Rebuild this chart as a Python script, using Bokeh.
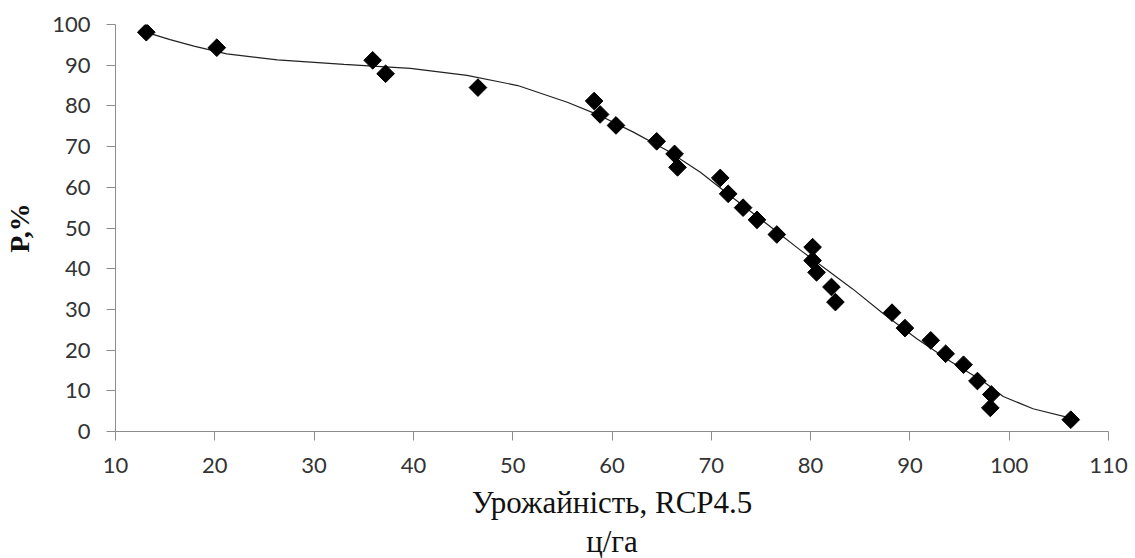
import numpy as np
from bokeh.plotting import figure
from bokeh.models import Range1d, FixedTicker, Title
from bokeh.embed import file_html
from bokeh.resources import INLINE

# Observed points: yield (c/ha) vs probability P (%)
yield_vals = [13.1, 20.2, 35.9, 37.2, 46.5, 58.2, 58.8, 60.4, 64.5, 66.3,
              66.6, 70.9, 71.7, 73.2, 74.6, 76.6, 80.2, 80.2, 80.6, 82.1,
              82.5, 88.2, 89.5, 92.1, 93.6, 95.4, 96.8, 98.2, 98.1, 106.2]
p_vals = [98.1, 94.3, 91.2, 87.9, 84.5, 81.2, 77.9, 75.2, 71.3, 68.2,
          64.9, 62.3, 58.4, 55.0, 52.0, 48.4, 45.3, 42.0, 39.1, 35.5,
          31.8, 29.2, 25.4, 22.4, 19.1, 16.4, 12.4, 9.1, 5.8, 2.9]

# Trend line
trend_x = [13.2, 15.5, 17.9, 21.2, 26.3, 33.0, 39.7, 45.4, 50.5, 55.5,
           58.8, 62.2, 65.6, 68.9, 72.3, 75.6, 79.0, 84.2, 87.3, 90.7,
           94.1, 97.4, 99.4, 102.4, 106.2]
trend_y = [98.0, 96.3, 94.7, 92.8, 91.3, 90.2, 89.2, 87.5, 85.0, 80.9,
           77.6, 73.5, 69.0, 63.7, 57.2, 51.0, 44.5, 35.1, 29.0, 22.8,
           17.2, 12.3, 8.6, 5.6, 3.3]

x_ticks = [10, 20, 30, 40, 50, 60, 70, 80, 90, 100, 110]
y_ticks = [0, 10, 20, 30, 40, 50, 60, 70, 80, 90, 100]
x_title_lines = ["Урожайність, RCP4.5", "ц/га"]
y_title = "P,%"

p = figure(width=1135, height=558, output_backend="svg", toolbar_location=None,
           x_range=Range1d(10, 110), y_range=Range1d(0, 100),
           min_border_left=115, min_border_right=27, min_border_top=24,
           min_border_bottom=127)
p.outline_line_color = None
p.xgrid.visible = False
p.ygrid.visible = False
p.background_fill_color = "white"
p.border_fill_color = "white"

p.line(trend_x, trend_y, line_color="#222222", line_width=1.2)
p.scatter(yield_vals, p_vals, marker="square", angle=np.pi / 4, size=12.5,
          fill_color="black", line_color="black")

axis_grey = "#8c8c8c"
for ax in (p.xaxis[0], p.yaxis[0]):
    ax.axis_line_color = axis_grey
    ax.major_tick_line_color = axis_grey
    ax.minor_tick_line_color = None
    ax.major_tick_in = 0
    ax.major_tick_out = 9
    ax.major_label_text_font = "Lato"
    ax.major_label_text_font_size = "22px"
    ax.major_label_text_color = "#333333"

p.xaxis[0].ticker = FixedTicker(ticks=x_ticks)
p.yaxis[0].ticker = FixedTicker(ticks=y_ticks)
p.xaxis[0].major_label_standoff = 17
p.yaxis[0].major_label_standoff = 16

for i, txt in enumerate(x_title_lines):
    p.add_layout(Title(text=txt, align="center", offset=5,
                       standoff=14 if i == 0 else -10,
                       text_font="Liberation Serif", text_font_size="31px",
                       text_font_style="normal", text_color="#111111"),
                 "below")

p.yaxis[0].axis_label = y_title
p.yaxis[0].axis_label_text_font = "Liberation Serif"
p.yaxis[0].axis_label_text_font_style = "bold"
p.yaxis[0].axis_label_text_font_size = "28px"
p.yaxis[0].axis_label_text_color = "#111111"
p.yaxis[0].axis_label_standoff = 14

open("out.html", "w").write(file_html(p, INLINE))
